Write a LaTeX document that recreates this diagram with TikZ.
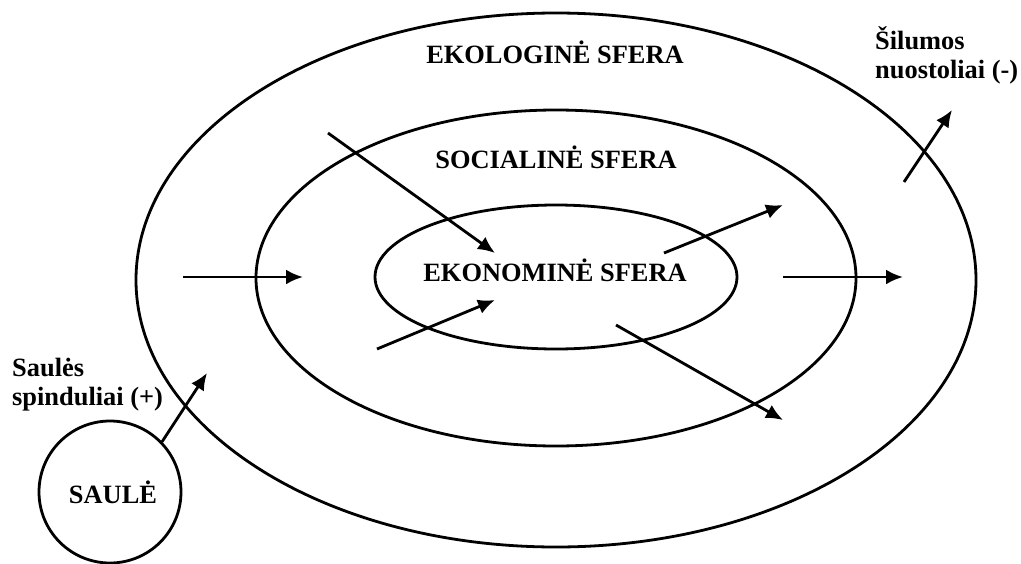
\documentclass[tikz,border=0pt]{standalone}
\usepackage{fontspec}
\setmainfont{Liberation Serif}
\usetikzlibrary{arrows.meta}
\tikzset{
  ring/.style={line width=2.8pt},
  flow/.style={line width=2.8pt,-{Latex[length=17pt,width=15pt]}},
  lbl/.style={font=\fontsize{26.4}{30}\selectfont\bfseries,inner sep=0pt},
  sunbox/.style={circle,draw,line width=2.8pt,minimum size=142pt,inner sep=0pt,font=\fontsize{26.4}{30}\selectfont\bfseries}
}
\begin{document}
\begin{tikzpicture}[x=1pt,y=-1pt]
\fill[white] (0,0) rectangle (1021,563);
\useasboundingbox (0,0) rectangle (1021,563);
% spheres
\draw[ring] (556,280) ellipse [x radius=420, y radius=267];
\draw[ring] (556,278) ellipse [x radius=300, y radius=168];
\draw[ring] (556,277) ellipse [x radius=181, y radius=72];
% sun
\node[sunbox] (sun) at (110,492) {};
\node[lbl,anchor=base] (sunlbl) at (113,503) {SAULĖ};
% labels
\node[lbl,anchor=base] (eko) at (555,63) {EKOLOGINĖ SFERA};
\node[lbl,anchor=base] (soc) at (556,168) {SOCIALINĖ SFERA};
\node[lbl,anchor=base] (ekon) at (555,281) {EKONOMINĖ SFERA};
\node[lbl,anchor=base west] (sil1) at (875,49) {Šilumos};
\node[lbl,anchor=base west] (sil2) at (875,78) {nuostoliai (-)};
\node[lbl,anchor=base west] (sau1) at (12,376) {Saulės};
\node[lbl,anchor=base west] (sau2) at (12,405) {spinduliai (+)};
% arrow endpoints
\coordinate (a1s) at (183,277); \coordinate (a1e) at (303,277);
\coordinate (a2s) at (328,133); \coordinate (a2e) at (495,253);
\coordinate (a3s) at (377,349); \coordinate (a3e) at (495,300);
\coordinate (a4s) at (664,253); \coordinate (a4e) at (783,205);
\coordinate (a5s) at (616,325); \coordinate (a5e) at (783,420);
\coordinate (a6s) at (783,277); \coordinate (a6e) at (903,277);
\coordinate (a7s) at (904,182); \coordinate (a7e) at (952,110);
\coordinate (a8e) at (207,373);
\draw[flow] (a1s) -- (a1e);
\draw[flow] (a2s) -- (a2e);
\draw[flow] (a3s) -- (a3e);
\draw[flow] (a4s) -- (a4e);
\draw[flow] (a5s) -- (a5e);
\draw[flow] (a6s) -- (a6e);
\draw[flow] (a7s) -- (a7e);
\draw[flow] (sun.44) -- (a8e);
\end{tikzpicture}
\end{document}
